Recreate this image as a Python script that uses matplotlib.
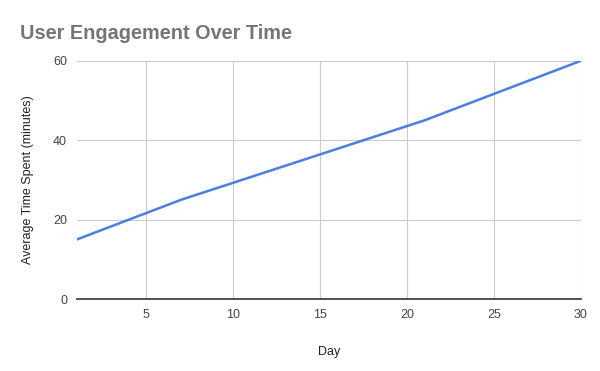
import matplotlib.pyplot as plt

days = [1, 7, 14, 21, 30]
minutes = [15, 25, 35, 45, 60]
x_ticks = [5, 10, 15, 20, 25, 30]
y_ticks = [0, 20, 40, 60]

plt.rcParams['font.family'] = ['Liberation Sans', 'DejaVu Sans']

fig = plt.figure(figsize=(6, 3.71), dpi=100)
ax = fig.add_axes([0.128, 0.194, 0.84, 0.642])

ax.plot(days, minutes, color='#4a7fe0', linewidth=1.8)

ax.set_xlim(1, 30)
ax.set_ylim(0, 60)
ax.set_xticks(x_ticks)
ax.set_yticks(y_ticks)
ax.grid(True, color='#cccccc', linewidth=0.8)
ax.set_axisbelow(True)
for s in ['top', 'right', 'left']:
    ax.spines[s].set_visible(False)
ax.spines['bottom'].set_color('#333333')
ax.spines['bottom'].set_linewidth(1.2)
ax.tick_params(length=0, labelsize=9, colors='#444444', pad=7)

ax.set_xlabel('Day', fontsize=9, color='#222222', labelpad=18)
ax.set_ylabel('Average Time Spent (minutes)', fontsize=9, color='#222222', labelpad=14)

fig.text(0.033, 0.91, 'User Engagement Over Time', fontsize=14.3, fontweight='bold',
         color='#757575', ha='left', va='center')

fig.savefig('out.png', dpi=100)
